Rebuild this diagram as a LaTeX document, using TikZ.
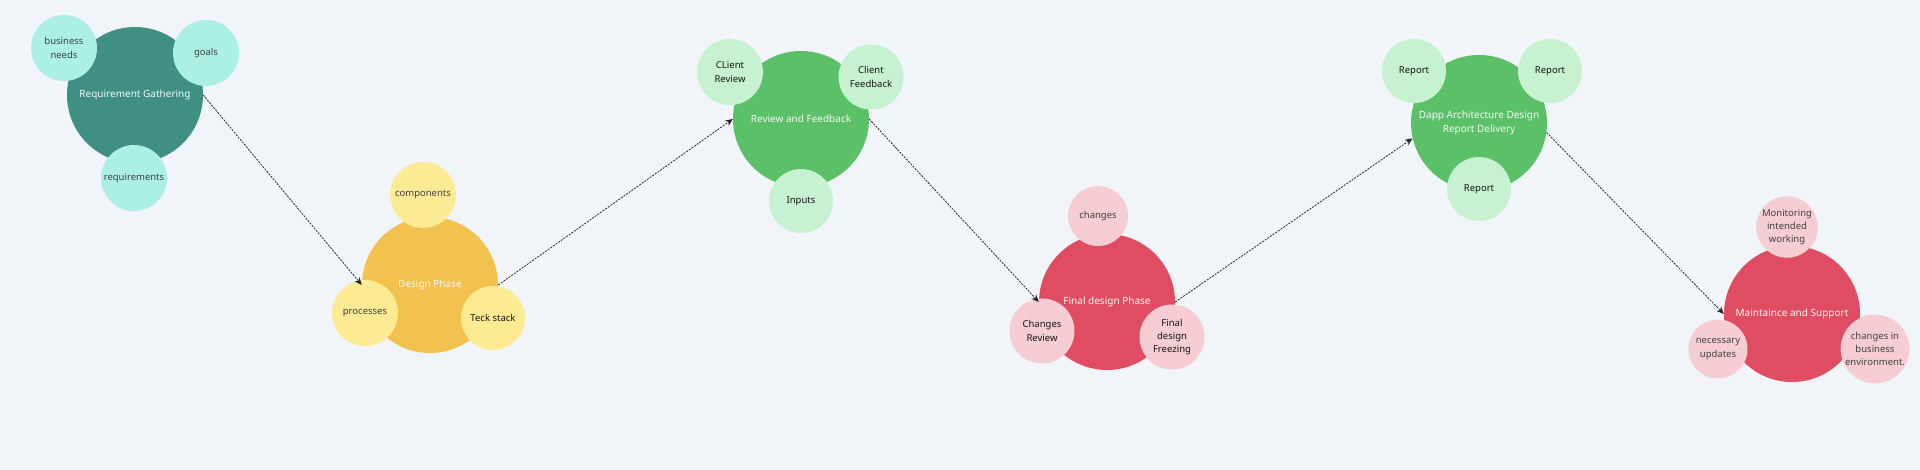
\documentclass[tikz,border=0pt]{standalone}
\usepackage{fontspec}
\setmainfont{Noto Sans}
\usetikzlibrary{arrows.meta}
\definecolor{bgc}{HTML}{F1F4F8}
\definecolor{tealM}{HTML}{3F8F83}
\definecolor{tealS}{HTML}{ABF0E1}
\definecolor{yelM}{HTML}{F2C14E}
\definecolor{yelS}{HTML}{FDEB94}
\definecolor{grnM}{HTML}{5CC068}
\definecolor{grnS}{HTML}{C7F2D2}
\definecolor{redM}{HTML}{E04D62}
\definecolor{redS}{HTML}{F5CDD2}
\definecolor{txtDark}{HTML}{141414}
\definecolor{txtGrey}{HTML}{404040}
\definecolor{txtMain}{HTML}{F2FAF4}
\tikzset{
  mainc/.style={circle, draw=none, inner sep=0pt, minimum size=136pt, align=center,
    text=txtMain, font=\fontsize{10}{13.5}\selectfont},
  satc/.style={circle, draw=none, inner sep=0pt, minimum size=66pt, align=center,
    font=\fontsize{9.5}{13.3}\selectfont},
  dk/.style={text=txtDark},
  gy/.style={text=txtGrey},
  flow/.style={draw=black!85, line width=0.8pt, dash pattern=on 2pt off 1.2pt,
    -{Stealth[length=7.5pt,width=6.5pt]}}
}
\begin{document}
\begin{tikzpicture}[x=1pt,y=-1pt]
\fill[bgc] (0,0) rectangle (1920,470);
\useasboundingbox (0,0) rectangle (1920,470);

% Requirement Gathering
\node[mainc, fill=tealM] (rg) at (135,95) {Requirement Gathering};
\node[satc, fill=tealS, gy] (rgA) at (64,48) {business\\needs};
\node[satc, fill=tealS, gy] (rgB) at (206,53) {goals};
\node[satc, fill=tealS, gy] (rgC) at (134,178) {requirements};

% Design Phase
\node[mainc, fill=yelM] (dp) at (430,285) {Design Phase};
\node[satc, fill=yelS, gy] (dpA) at (423,195) {components};
\node[satc, fill=yelS, gy] (dpB) at (365,313) {processes};
\node[satc, fill=yelS, dk, minimum size=64pt] (dpC) at (493,318) {Teck stack};

% Review and Feedback
\node[mainc, fill=grnM] (rf) at (801,119) {Review and Feedback};
\node[satc, fill=grnS, dk] (rfA) at (730,72) {CLient\\Review};
\node[satc, fill=grnS, dk, minimum size=65pt] (rfB) at (871,77) {Client\\Feedback};
\node[satc, fill=grnS, dk, minimum size=64pt] (rfC) at (801,201) {Inputs};

% Final design Phase
\node[mainc, fill=redM] (fd) at (1107,302) {Final design Phase};
\node[satc, fill=redS, gy, minimum size=60pt] (fdA) at (1098,216) {changes};
\node[satc, fill=redS, dk, minimum size=65pt] (fdB) at (1042,331) {Changes\\Review};
\node[satc, fill=redS, dk, minimum size=65pt] (fdC) at (1172,337) {Final\\design\\Freezing};

% Dapp Architecture Design Report Delivery
\node[mainc, fill=grnM] (da) at (1479,123) {Dapp Architecture Design\\Report Delivery};
\node[satc, fill=grnS, dk, minimum size=64pt] (daA) at (1414,71) {Report};
\node[satc, fill=grnS, dk, minimum size=64pt] (daB) at (1550,71) {Report};
\node[satc, fill=grnS, dk, minimum size=64pt] (daC) at (1479,189) {Report};

% Maintaince and Support
\node[mainc, fill=redM] (ms) at (1792,314) {Maintaince and Support};
\node[satc, fill=redS, gy, minimum size=58pt] (msA) at (1787,227) {Monitoring\\intended\\working};
\node[satc, fill=redS, gy, minimum size=59pt] (msB) at (1718,349) {necessary\\updates};
\node[satc, fill=redS, gy, minimum size=62pt] (msC) at (1875,349) {changes in\\business\\environment.};

% connectors
\draw[flow] (rg.east) -- (dp.west);
\draw[flow] (dp.east) -- (rf.west);
\draw[flow] (rf.east) -- (fd.west);
\draw[flow] (fd.east) -- (da.193);
\draw[flow] (da.-8) -- (ms.west);
\end{tikzpicture}
\end{document}
